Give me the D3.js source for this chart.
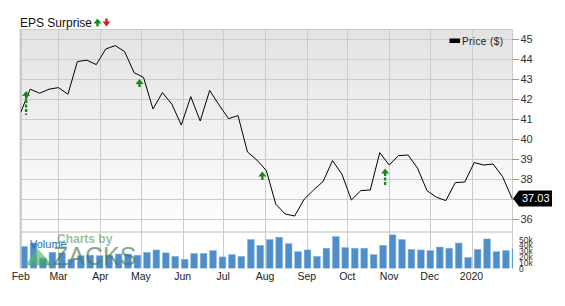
<!DOCTYPE html>
<html>
<head>
<meta charset="utf-8">
<script src="https://cdn.jsdelivr.net/npm/d3@7"></script>
<style>
  body { margin: 0; background: #fff; }
  svg { display: block; font-family: "Liberation Sans", Arial, sans-serif; }
</style>
</head>
<body>
<div id="chart"></div>
<script>
// weekly closing price ($)
var priceVals = [41.33, 42.49, 42.29, 42.49, 42.57, 42.24, 43.87, 43.94, 43.72, 44.50,
  44.67, 44.37, 43.32, 43.08, 41.50, 42.32, 41.74, 40.70, 42.12, 40.90,
  42.43, 41.70, 41.02, 41.17, 39.35, 38.95, 38.42, 36.74, 36.25, 36.15,
  36.99, 37.45, 37.87, 38.92, 38.24, 36.95, 37.42, 37.45, 39.32, 38.70,
  39.17, 39.20, 38.54, 37.42, 37.09, 36.92, 37.82, 37.85, 38.82, 38.70,
  38.75, 38.12, 37.03];
// weekly volume (thousands)
var volumeVals = [38, 44, 18, 28, 27, 16, 22, 23, 22, 23,
  25, 25, 23, 28, 32, 27, 21, 16, 26, 26,
  31, 20, 24, 21, 50, 40, 50, 54, 43, 29,
  32, 21, 35, 55, 36, 35, 35, 24, 40, 58,
  50, 33, 32, 31, 37, 35, 44, 19, 33, 51,
  29, 31, 34];
var priceTicks = [36, 37, 38, 39, 40, 41, 42, 43, 44, 45];
var priceLabels = ["36", "", "38", "39", "40", "41", "42", "43", "44", "45"];
var volumeTicks = [0, 10, 20, 30, 40, 50];
var volumeLabels = ["0", "10k", "20k", "30k", "40k", "50k"];
// earnings surprises: date, arrow tip price, stem end price, dashed stem
var epsDates = ["2019-02-05", "2019-04-30", "2019-07-30", "2019-10-29"];
var epsTip = [42.40, 43.00, 38.37, 38.53];
var epsEnd = [41.20, 42.60, 37.95, 37.62];
var epsDashed = [true, false, false, true];
var lastPrice = 37.03;

var width = 565, height = 306,
    plotL = 20.7, plotR = 512,
    plotT = 29, sep = 232, volBase = 268.5;

var parse = d3.timeParse("%Y-%m-%d");
var weeks = d3.timeFriday.range(new Date(2019, 1, 1), new Date(2020, 1, 1));
var data = weeks.map(function(d, i){ return {date: d, price: priceVals[i], vol: volumeVals[i]}; });

var x = d3.scaleTime()
    .domain([new Date(2019, 1, 1), new Date(2020, 0, 31)])
    .range([plotL, plotR]);
var y = d3.scaleLinear().domain([36, 45]).range([219, 39]);
var yv = d3.scaleLinear().domain([0, 50]).range([volBase, 239.5]);

var svg = d3.select("#chart").append("svg")
    .attr("width", width)
    .attr("height", height);

var defs = svg.append("defs");
var grad = defs.append("linearGradient")
    .attr("id", "bg").attr("x1", 0).attr("y1", 0).attr("x2", 0).attr("y2", 1);
grad.append("stop").attr("offset", "0%").attr("stop-color", "#e3e3e3");
grad.append("stop").attr("offset", "100%").attr("stop-color", "#ffffff");
defs.append("clipPath").attr("id", "plotclip")
  .append("rect").attr("x", plotL).attr("y", plotT).attr("width", plotR - plotL + 1).attr("height", volBase - plotT);
var tri = defs.append("linearGradient")
    .attr("id", "zgrad").attr("x1", 0).attr("y1", 0).attr("x2", 1).attr("y2", 1);
tri.append("stop").attr("offset", "0%").attr("stop-color", "#7ccf8c");
tri.append("stop").attr("offset", "100%").attr("stop-color", "#2e9a4e");

//background of the price panel
svg.append("rect")
    .attr("x", plotL).attr("y", plotT)
    .attr("width", plotR - plotL).attr("height", sep - plotT)
    .attr("fill", "url(#bg)");

//horizontal grid (price panel)
svg.append("g").selectAll("line")
  .data(priceTicks)
  .enter().append("line")
    .attr("x1", plotL).attr("x2", plotR)
    .attr("y1", function(d){ return Math.round(y(d)) + 0.5; })
    .attr("y2", function(d){ return Math.round(y(d)) + 0.5; })
    .attr("stroke", "#cccccc");
svg.append("line")
    .attr("x1", plotL).attr("x2", plotR).attr("y1", plotT + 0.5).attr("y2", plotT + 0.5)
    .attr("stroke", "#cccccc");
svg.append("line")
    .attr("x1", plotL).attr("x2", plotR).attr("y1", sep).attr("y2", sep)
    .attr("stroke", "#dddddd").attr("stroke-width", 2);

//vertical grid on month starts
var months = d3.timeMonth.range(new Date(2019, 1, 1), new Date(2020, 1, 1));
svg.append("g").selectAll("line")
  .data(months.slice(1))
  .enter().append("line")
    .attr("x1", function(d){ return Math.round(x(d)) + 0.5; })
    .attr("x2", function(d){ return Math.round(x(d)) + 0.5; })
    .attr("y1", plotT).attr("y2", volBase)
    .attr("stroke", "#cccccc");
svg.append("line")
    .attr("x1", plotR + 0.5).attr("x2", plotR + 0.5).attr("y1", plotT).attr("y2", volBase)
    .attr("stroke", "#cccccc");

//volume bars
var barW = x(d3.timeDay.offset(weeks[0], 5)) - x(weeks[0]);
svg.append("g")
    .attr("clip-path", "url(#plotclip)")
  .selectAll("rect")
  .data(data)
  .enter().append("rect")
    .attr("x", function(d){ return x(d.date); })
    .attr("y", function(d){ return yv(d.vol); })
    .attr("width", barW)
    .attr("height", function(d){ return volBase - yv(d.vol); })
    .attr("fill", "#4e8fcb")
    .attr("stroke", "#8ab6de")
    .attr("stroke-width", 0.5);

//watermark
var wm = svg.append("g").attr("opacity", 0.65);
wm.append("path")
    .attr("d", "M25,265.5 L38,248.5 L52,265.5 Z")
    .attr("fill", "url(#zgrad)");
wm.append("text")
    .attr("x", 57).attr("y", 243)
    .attr("font-size", "12px").attr("font-weight", "bold")
    .attr("fill", "#5f9f6c")
    .text("Charts by");
wm.append("text")
    .attr("x", 53).attr("y", 265)
    .attr("font-size", "25px")
    .attr("fill", "#4a7a5a")
    .text("ZACKS");
svg.append("text")
    .attr("x", 30).attr("y", 247.5)
    .attr("font-size", "11px")
    .attr("fill", "#2a6db3")
    .text("Volume");

//left frame
svg.append("line")
    .attr("x1", plotL).attr("x2", plotL).attr("y1", plotT).attr("y2", volBase)
    .attr("stroke", "#c4c4c4").attr("stroke-width", 2);

//price line
var line = d3.line()
    .x(function(d){ return x(d.date); })
    .y(function(d){ return y(d.price); });
svg.append("path")
    .datum(data)
    .attr("clip-path", "url(#plotclip)")
    .attr("d", line)
    .attr("fill", "none")
    .attr("stroke", "#000")
    .attr("stroke-width", 1);

//eps surprise arrows
var green = "#138a1c", red = "#e01b1b";
function upArrow(g, cx, tipY, endY, dashed, color){
  g.append("path")
    .attr("d", "M" + cx + "," + tipY + " L" + (cx + 4) + "," + (tipY + 5) + " L" + (cx - 4) + "," + (tipY + 5) + " Z")
    .attr("fill", color);
  g.append("line")
    .attr("x1", cx).attr("x2", cx)
    .attr("y1", tipY + 4.5).attr("y2", endY)
    .attr("stroke", color).attr("stroke-width", 2.4)
    .attr("stroke-dasharray", dashed ? "3,1.5" : null);
}
var eg = svg.append("g");
epsDates.forEach(function(d, i){
  upArrow(eg, x(parse(d)), y(epsTip[i]), y(epsEnd[i]), epsDashed[i], green);
});

//title
svg.append("text")
    .attr("x", 20).attr("y", 26.5)
    .attr("font-size", "12px")
    .attr("fill", "#111")
    .text("EPS Surprise");
upArrow(svg, 97.5, 18.5, 26.5, false, green);
svg.append("path")
    .attr("d", "M106.5,26.5 L102.5,21.5 L110.5,21.5 Z")
    .attr("fill", red);
svg.append("line")
    .attr("x1", 106.5).attr("x2", 106.5).attr("y1", 18.5).attr("y2", 22)
    .attr("stroke", red).attr("stroke-width", 2.4);

//legend
svg.append("rect")
    .attr("x", 449.5).attr("y", 38.5).attr("width", 10.5).attr("height", 4.5)
    .attr("fill", "#000");
svg.append("text")
    .attr("x", 462).attr("y", 45)
    .attr("font-size", "10px")
    .attr("letter-spacing", "0.4px")
    .attr("fill", "#222")
    .text("Price ($)");

//price axis
var pa = svg.append("g");
pa.selectAll("line")
  .data(priceTicks)
  .enter().append("line")
    .attr("x1", plotR).attr("x2", plotR + 7)
    .attr("y1", function(d){ return Math.round(y(d)) + 0.5; })
    .attr("y2", function(d){ return Math.round(y(d)) + 0.5; })
    .attr("stroke", "#999");
pa.selectAll("text")
  .data(priceTicks)
  .enter().append("text")
    .attr("x", plotR + 8.5)
    .attr("y", function(d){ return y(d); })
    .attr("dy", "0.36em")
    .attr("font-size", "11px")
    .attr("fill", "#333")
    .text(function(d, i){ return priceLabels[i]; });

//volume axis (labels packed tightly as on the original)
svg.append("g").selectAll("text")
  .data(volumeTicks)
  .enter().append("text")
    .attr("x", plotR + 7)
    .attr("y", function(d){ return yv(d); })
    .attr("dy", "0.36em")
    .attr("font-size", "8.5px")
    .attr("fill", "#333")
    .text(function(d, i){ return volumeLabels[i]; });

//last price tag
var ly = y(lastPrice);
svg.append("path")
    .attr("d", "M" + (plotR + 1) + "," + ly + " L" + (plotR + 7) + "," + (ly - 8) + " L552," + (ly - 8) +
               " L552," + (ly + 8) + " L" + (plotR + 7) + "," + (ly + 8) + " Z")
    .attr("fill", "#000");
svg.append("text")
    .attr("x", plotR + 10)
    .attr("y", ly)
    .attr("dy", "0.36em")
    .attr("font-size", "11px")
    .attr("fill", "#fff")
    .text(lastPrice.toFixed(2));

//month labels
var fmt = d3.timeFormat("%b");
svg.append("g").selectAll("text")
  .data(months)
  .enter().append("text")
    .attr("x", function(d){ return x(d); })
    .attr("y", 280)
    .attr("text-anchor", "middle")
    .attr("font-size", "10.5px")
    .attr("fill", "#222")
    .text(function(d){ return d.getMonth() === 0 ? d.getFullYear() : fmt(d); });
</script>
</body>
</html>
